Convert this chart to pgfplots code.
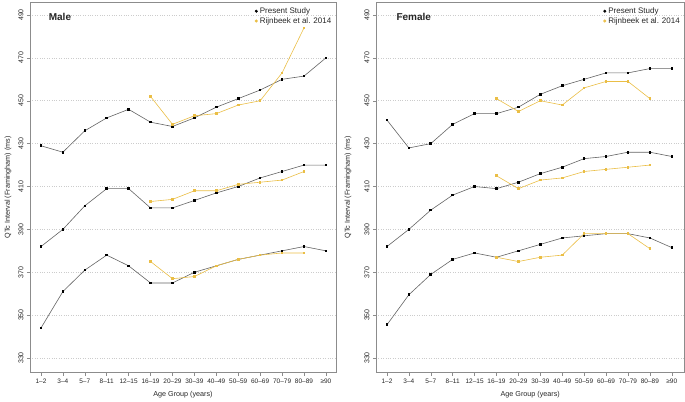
\documentclass[border=0pt]{standalone}
\usepackage{pgfplots}
\pgfplotsset{compat=1.18}
\usepackage{pgfplotstable}
\usepackage{fontspec}
\setmainfont{Liberation Sans}
\definecolor{gold}{RGB}{234,190,70}
\definecolor{linegray}{RGB}{100,100,100}
\definecolor{framegray}{RGB}{140,140,140}

% Male, present study
\pgfplotstableread{
x pt pm pb
0 429 382 344
1 426 390 361
2 436 401 371
3 442 409 378
4 446 409 373
5 440 400 365
6 438 400 365
7 442 403.5 370
8 447 407 373
9 451 410 376
10 455 414 378
11 460 417 380
12 461.5 420 382
13 470 420 380
}\malep
% Male, Rijnbeek
\pgfplotstableread{
x rt rm rb
5 452 403 375
6 439 404 367
7 443 408 368
8 444 408 373
9 448 411 376
10 450 412 378
11 463 413 379
12 484 417 379
}\maler
% Female, present study
\pgfplotstableread{
x pt pm pb
0 441 382 345.5
1 428 390 359.5
2 430 399 369
3 439 406 376
4 444 410 379
5 444 409 377
6 447 412 380
7 453 416 383
8 457 419 386
9 460 423 387
10 463 424 388
11 463 426 388
12 465 426 386
13 465 424 381.5
}\femalep
% Female, Rijnbeek
\pgfplotstableread{
x rt rm rb
5 451 415 377
6 445 409 375
7 450 413 377
8 448 414 378
9 456 417 388
10 459 418 388
11 459 419 388
12 451 420 381
}\femaler

\pgfplotsset{
  panel/.style={
    scale only axis,
    height=370pt,
    xmin=-0.5, ymin=323.24, ymax=495.83,
    axis line style={framegray, line width=0.6pt},
    xtick={0,...,13},
    xticklabels={1--2,3--4,5--7,8--11,12--15,16--19,20--29,30--39,40--49,50--59,60--69,70--79,80--89,≥90},
    ytick={330,350,...,490},
    xtick pos=bottom, ytick pos=left,
    tick align=outside,
    major tick length=3pt,
    tick style={framegray, line width=0.5pt},
    ymajorgrids,
    grid style={dotted, black!20, line width=0.6pt},
    /pgf/number format/assume math mode=true,
    tick label style={font=\fontsize{6.5}{7}\selectfont, text=black!85},
    yticklabel style={rotate=90, anchor=south, font=\fontsize{7}{8}\selectfont},
    label style={font=\fontsize{7.2}{8}\selectfont, text=black!85},
    xlabel={Age Group (years)},
    ylabel={QTc Interval (Framingham) (ms)},
    xlabel style={at={(axis description cs:0.5,-0.0608)}, anchor=center},
    legend cell align=left,
    legend style={draw=none, fill=none, at={(rel axis cs:0.995,0.995)}, anchor=north east,
      font=\fontsize{8}{9.5}\selectfont, inner sep=1pt, row sep=-1.5pt, text=black!85},
    legend image code/.code={\fill (0.12cm,0cm) circle (1.3pt);},
    pres/.style={linegray, line width=0.6pt, mark=square*, mark size=0.8pt, mark options={black, fill=black, line width=0pt}},
    rijn/.style={gold, line width=0.6pt, mark=square*, mark size=0.8pt, mark options={gold, fill=gold, line width=0pt}},
  }
}

\begin{document}
\begin{tikzpicture}
\path (-30pt,-27.5pt) rectangle (655pt,372.5pt);
\begin{axis}[panel, width=306pt, xmax=13.46,
  ylabel style={at={(axis description cs:-0.0719,0.5)}, anchor=center}]
  \addlegendimage{black}
  \addlegendentry{Present Study}
  \addlegendimage{gold}
  \addlegendentry{Rijnbeek et al. 2014}
  \addplot[pres, forget plot] table[x=x, y=pt] {\malep};
  \addplot[pres, forget plot] table[x=x, y=pm] {\malep};
  \addplot[pres, forget plot] table[x=x, y=pb] {\malep};
  \addplot[rijn, forget plot] table[x=x, y=rt] {\maler};
  \addplot[rijn, forget plot] table[x=x, y=rm] {\maler};
  \addplot[rijn, forget plot] table[x=x, y=rb] {\maler};
  \node[anchor=west, font=\bfseries\fontsize{10}{12}\selectfont, text=black!85] at (rel axis cs:0.05,0.961) {Male};
\end{axis}
\begin{axis}[panel, at={(346pt,0pt)}, width=308.5pt, xmax=13.58,
  ylabel style={at={(axis description cs:-0.0908,0.5)}, anchor=center}]
  \addlegendimage{black}
  \addlegendentry{Present Study}
  \addlegendimage{gold}
  \addlegendentry{Rijnbeek et al. 2014}
  \addplot[pres, forget plot] table[x=x, y=pt] {\femalep};
  \addplot[pres, forget plot] table[x=x, y=pm] {\femalep};
  \addplot[pres, forget plot] table[x=x, y=pb] {\femalep};
  \addplot[rijn, forget plot] table[x=x, y=rt] {\femaler};
  \addplot[rijn, forget plot] table[x=x, y=rm] {\femaler};
  \addplot[rijn, forget plot] table[x=x, y=rb] {\femaler};
  \node[anchor=west, font=\bfseries\fontsize{10}{12}\selectfont, text=black!85] at (rel axis cs:0.055,0.961) {Female};
\end{axis}
\end{tikzpicture}
\end{document}
